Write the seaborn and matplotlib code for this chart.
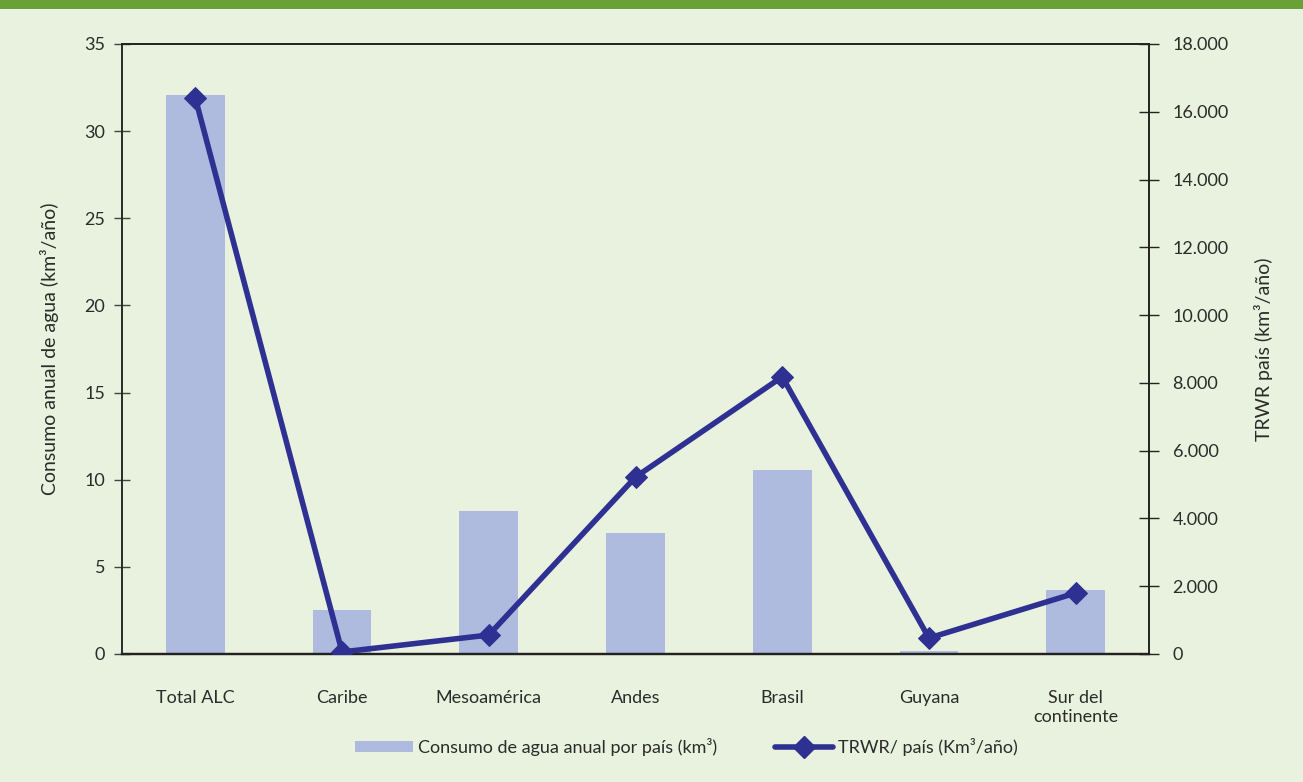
import matplotlib
matplotlib.use("Agg")
import matplotlib.pyplot as plt
import seaborn as sns
import numpy as np
import pandas as pd
from matplotlib.patches import Rectangle
from matplotlib.lines import Line2D
from matplotlib.ticker import FuncFormatter, MultipleLocator

categories = ["Total ALC", "Caribe", "Mesoamérica", "Andes", "Brasil", "Guyana", "Sur del\ncontinente"]
consumo = [32.1, 2.5, 8.2, 6.95, 10.55, 0.15, 3.7]
trwr = [16400, 60, 560, 5220, 8180, 470, 1800]

bar_label = "Consumo de agua anual por país (km³)"
line_label = "TRWR/ país (Km³/año)"
left_ylabel = "Consumo anual de agua (km³/año)"
right_ylabel = "TRWR país (km³/año)"

BG = "#e9f2de"
BANNER = "#6aa136"
BAR = "#aebbdf"
LINE = "#2e3192"
TXT = "#2b2b2b"

sns.set_theme(style="white")
plt.rcParams['font.family'] = ['Lato', 'DejaVu Sans']

fig = plt.figure(figsize=(13.03, 7.82), dpi=100, facecolor=BG)
fig.patches.append(Rectangle((0, 1 - 9/782), 1, 9/782, transform=fig.transFigure,
                             facecolor=BANNER, edgecolor="none", zorder=0))

ax = fig.add_axes([122/1303, (782-654)/782, (1149-122)/1303, (654-44)/782])
ax.set_facecolor(BG)

df = pd.DataFrame({"cat": categories, "consumo": consumo, "trwr": trwr, "pos": np.arange(len(categories))})

sns.barplot(data=df, x="cat", y="consumo", color=BAR, saturation=1, width=0.4, ax=ax,
            zorder=2, linewidth=0, edgecolor="none")
ax.set_xlim(-0.5, len(categories) - 0.5)
ax.set_ylim(0, 35)
ax.yaxis.set_major_locator(MultipleLocator(5))
ax.set_xlabel("")
ax.set_ylabel(left_ylabel, fontsize=14, color=TXT, labelpad=18)
ax.tick_params(axis="x", length=0, pad=26, labelsize=13, labelcolor=TXT)
ax.tick_params(axis="y", direction="inout", length=12, width=1, color="#444444",
               labelsize=13, labelcolor=TXT, pad=6, left=True)

ax2 = ax.twinx()
sns.lineplot(data=df, x="pos", y="trwr", ax=ax2, color=LINE, linewidth=4,
             marker="D", markersize=11, markeredgecolor=LINE, sort=False, zorder=3)
ax2.set_ylim(0, 18000)
ax2.yaxis.set_major_locator(MultipleLocator(2000))
ax2.yaxis.set_major_formatter(FuncFormatter(lambda v, p: f"{int(v):,}".replace(",", ".")))
ax2.set_ylabel(right_ylabel, fontsize=14, color=TXT, labelpad=18)
ax2.tick_params(axis="y", direction="inout", length=14, width=1, color="#222222",
                labelsize=13, labelcolor=TXT, pad=10, right=True)
ax2.set_xlim(-0.5, len(categories) - 0.5)
ax2.set_xlabel("")
ax.set_xticks(np.arange(len(categories)))
ax.set_xticklabels(categories)

for a in (ax, ax2):
    for s in a.spines.values():
        s.set_visible(True)
        s.set_linewidth(1.2)
        s.set_color("#222222")
ax.spines["left"].set_color("#555555")
ax.spines["bottom"].set_linewidth(1.6)
ax2.spines["bottom"].set_linewidth(1.6)

handles = [Rectangle((0, 0), 1, 1, facecolor=BAR, edgecolor="none"),
           Line2D([0], [0], color=LINE, linewidth=4, marker="D", markersize=11)]
fig.legend(handles, [bar_label, line_label], loc="center", bbox_to_anchor=(0.527, 0.045),
           ncol=2, frameon=False, fontsize=13, handlelength=3.2, handleheight=0.6,
           columnspacing=3.2, handletextpad=0.3, labelcolor=TXT)

fig.savefig("out.png", dpi=100, facecolor=BG)
